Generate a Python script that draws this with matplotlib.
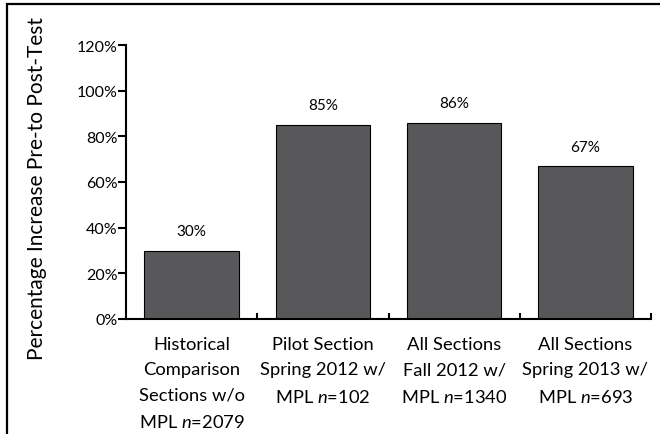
import matplotlib
matplotlib.use("Agg")
import matplotlib.pyplot as plt
from matplotlib.patches import Rectangle

plt.rcParams['font.family'] = ['Lato', 'DejaVu Sans']
plt.rcParams['mathtext.fontset'] = 'custom'
plt.rcParams['mathtext.rm'] = 'Lato'
plt.rcParams['mathtext.it'] = 'Lato:italic'

categories = [
    "Historical\nComparison\nSections w/o\nMPL $n$=2079",
    "Pilot Section\nSpring 2012 w/\nMPL $n$=102",
    "All Sections\nFall 2012 w/\nMPL $n$=1340",
    "All Sections\nSpring 2013 w/\nMPL $n$=693",
]
values = [30, 85, 86, 67]
yticks = [0, 20, 40, 60, 80, 100, 120]
ytick_labels = ["0%", "20%", "40%", "60%", "80%", "100%", "120%"]
ylabel = "Percentage Increase Pre-to Post-Test"

W, H = 660, 435
fig = plt.figure(figsize=(W / 100, H / 100), dpi=100)
ax = fig.add_axes([126 / W, 1 - 320 / H, (651 - 126) / W, (320 - 46) / H])

x = list(range(len(values)))
bars = ax.bar(x, values, width=0.72, color="#58585a", edgecolor="black", linewidth=0.8)
for xi, v in zip(x, values):
    ax.annotate(f"{v}%", (xi, v), xytext=(0, 9), textcoords="offset points",
                ha="center", va="bottom", fontsize=11)

ax.set_xlim(-0.5, len(values) - 0.5)
ax.set_ylim(0, 120)
ax.set_yticks(yticks)
ax.set_yticklabels(ytick_labels, fontsize=11.5)
ax.tick_params(axis="y", direction="out", length=6, width=1.5, pad=0)

ax.set_xticks([i + 0.5 for i in range(len(values))])
ax.set_xticklabels([])
ax.tick_params(axis="x", direction="in", length=4, width=1.5)
for xi, lab in zip(x, categories):
    ax.text(xi, -7.5, lab, ha="center", va="top", fontsize=13.2, linespacing=1.72,
            transform=ax.transData)

for s in ["top", "right"]:
    ax.spines[s].set_visible(False)
for s in ["left", "bottom"]:
    ax.spines[s].set_linewidth(1.5)

fig.text(37 / W, 1 - 188 / H, ylabel, rotation=90, ha="center", va="center", fontsize=15)

frame = Rectangle((7 / W, -0.5), 2, 0.5 + (1 - 5 / H), transform=fig.transFigure,
                  fill=False, edgecolor="black", linewidth=1.6, clip_on=False)
fig.patches.append(frame)

fig.savefig("out.png", dpi=100)
